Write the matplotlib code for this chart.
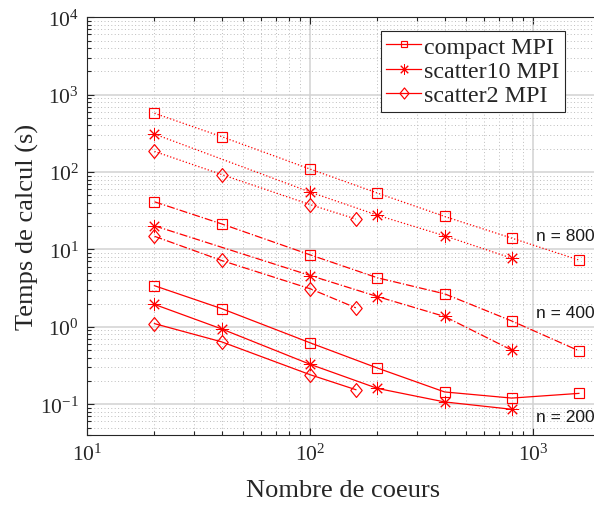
import matplotlib
matplotlib.use("Agg")
import matplotlib.pyplot as plt
from matplotlib.lines import Line2D
from matplotlib.path import Path
from matplotlib.ticker import LogLocator, NullFormatter, LogFormatterMathtext

# ---- data ----
cores_compact = [20, 40, 100, 200, 400, 800, 1600]
cores_scatter10 = [20, 100, 200, 400, 800]
cores_scatter10_n200 = [20, 40, 100, 200, 400, 800]
cores_scatter2 = [20, 40, 100, 160]

compact_800 = [575, 287, 109, 53.5, 26.7, 14.0, 7.3]
compact_400 = [41.3, 21.4, 8.5, 4.3, 2.67, 1.19, 0.49]
compact_200 = [3.4, 1.72, 0.62, 0.293, 0.144, 0.12, 0.138]

scatter10_800 = [310, 55, 27.7, 15.0, 7.7]
scatter10_400 = [20.2, 4.6, 2.46, 1.36, 0.50]
scatter10_200 = [1.95, 0.94, 0.327, 0.16, 0.107, 0.086]

scatter2_800 = [185, 93, 37.9, 24.7]
scatter2_400 = [14.8, 7.2, 3.1, 1.76]
scatter2_200 = [1.1, 0.64, 0.24, 0.154]

legend_labels = ["compact MPI", "scatter10 MPI", "scatter2 MPI"]
n_labels = ["n = 800", "n = 400", "n = 200"]
n_label_y = [15.1, 1.52, 0.069]

# ---- style ----
plt.rcParams['font.family'] = ['Liberation Serif', 'DejaVu Serif']
plt.rcParams['mathtext.fontset'] = 'custom'
plt.rcParams['mathtext.rm'] = 'Liberation Serif'
plt.rcParams['mathtext.it'] = 'Liberation Serif:italic'

RED = '#ff0000'
DARK = '#262626'
W, H = 594, 506
fig = plt.figure(figsize=(W / 100, H / 100), dpi=100)

left_px, right_px, top_px, bottom_px = 87.3, 600.5, 18.3, 436.0
ax = fig.add_axes([left_px / W, 1 - bottom_px / H,
                   (right_px - left_px) / W, (bottom_px - top_px) / H])
ax.set_xscale('log')
ax.set_yscale('log')
ax.set_xlim(10, 2000)
ax.set_ylim(0.04, 1e4)

asterisk = (8, 2, 0)
diamond = Path([(0, 1), (0.82, 0), (0, -1), (-0.82, 0), (0, 1)],
               [Path.MOVETO, Path.LINETO, Path.LINETO, Path.LINETO, Path.CLOSEPOLY])
styles = {
    'compact': dict(marker='s', ms=7.0, mew=0.85),
    'scatter10': dict(marker=asterisk, ms=9.5, mew=0.7),
    'scatter2': dict(marker=diamond, ms=10.0, mew=0.85),
}
leg_styles = {
    'compact': dict(marker='s', ms=5.0, mew=0.85),
    'scatter10': dict(marker=asterisk, ms=7.5, mew=0.7),
    'scatter2': dict(marker=diamond, ms=8.0, mew=0.85),
}
common = dict(color=RED, mfc='none', mec=RED, lw=0.9)

series = [
    (cores_compact, compact_800, 'compact', ':'),
    (cores_scatter10, scatter10_800, 'scatter10', ':'),
    (cores_scatter2, scatter2_800, 'scatter2', ':'),
    (cores_compact, compact_400, 'compact', '-.'),
    (cores_scatter10, scatter10_400, 'scatter10', '-.'),
    (cores_scatter2, scatter2_400, 'scatter2', '-.'),
    (cores_compact, compact_200, 'compact', '-'),
    (cores_scatter10_n200, scatter10_200, 'scatter10', '-'),
    (cores_scatter2, scatter2_200, 'scatter2', '-'),
]
for xs, ys, kind, ls in series:
    ax.plot(xs, ys, ls=ls, **styles[kind], **common, zorder=3)

# grid
ax.set_axisbelow(True)
ax.xaxis.set_minor_locator(LogLocator(base=10, subs=range(2, 10), numticks=20))
ax.yaxis.set_minor_locator(LogLocator(base=10, subs=range(2, 10), numticks=20))
ax.xaxis.set_minor_formatter(NullFormatter())
ax.yaxis.set_minor_formatter(NullFormatter())
ax.xaxis.set_major_formatter(LogFormatterMathtext())
ax.yaxis.set_major_formatter(LogFormatterMathtext())
ax.grid(which='major', color='#d2d2d2', lw=1.1, ls='-')
ax.grid(which='minor', color='#bdbdbd', lw=0.7, ls=(0, (1, 2.5)))

ax.tick_params(which='both', direction='in', top=True, right=True,
               color=DARK, width=0.8, labelcolor=DARK, labelsize=15.5)
ax.tick_params(which='major', length=5, pad=6)
ax.tick_params(which='minor', length=3)
for s in ax.spines.values():
    s.set_color(DARK)
    s.set_linewidth(0.8)

ax.set_xlabel('Nombre de coeurs', fontsize=19, color=DARK)
ax.set_ylabel('Temps de calcul (s)', fontsize=19, color=DARK)
ax.xaxis.set_label_coords(0.498, -0.106)
ax.yaxis.set_label_coords(-0.095, 0.5)

for lab, yv in zip(n_labels, n_label_y):
    ax.text(1030, yv, lab, fontsize=12.5, family='Liberation Sans',
            color='#1a1a1a', ha='left', va='center', zorder=4)

handles = [Line2D([], [], ls='-', **leg_styles[k], **common)
           for k in ['compact', 'scatter10', 'scatter2']]
leg = fig.legend(handles, legend_labels, loc='upper left',
                 bbox_to_anchor=(381 / W, 1 - 31.7 / H), fontsize=17.3,
                 frameon=True, fancybox=False, framealpha=1,
                 edgecolor=DARK, borderpad=0.22, labelspacing=0.1,
                 handlelength=1.46, handletextpad=0.12, borderaxespad=0)
leg.get_frame().set_linewidth(0.8)
for t in leg.get_texts():
    t.set_color(DARK)

fig.savefig('out.png', dpi=100)
